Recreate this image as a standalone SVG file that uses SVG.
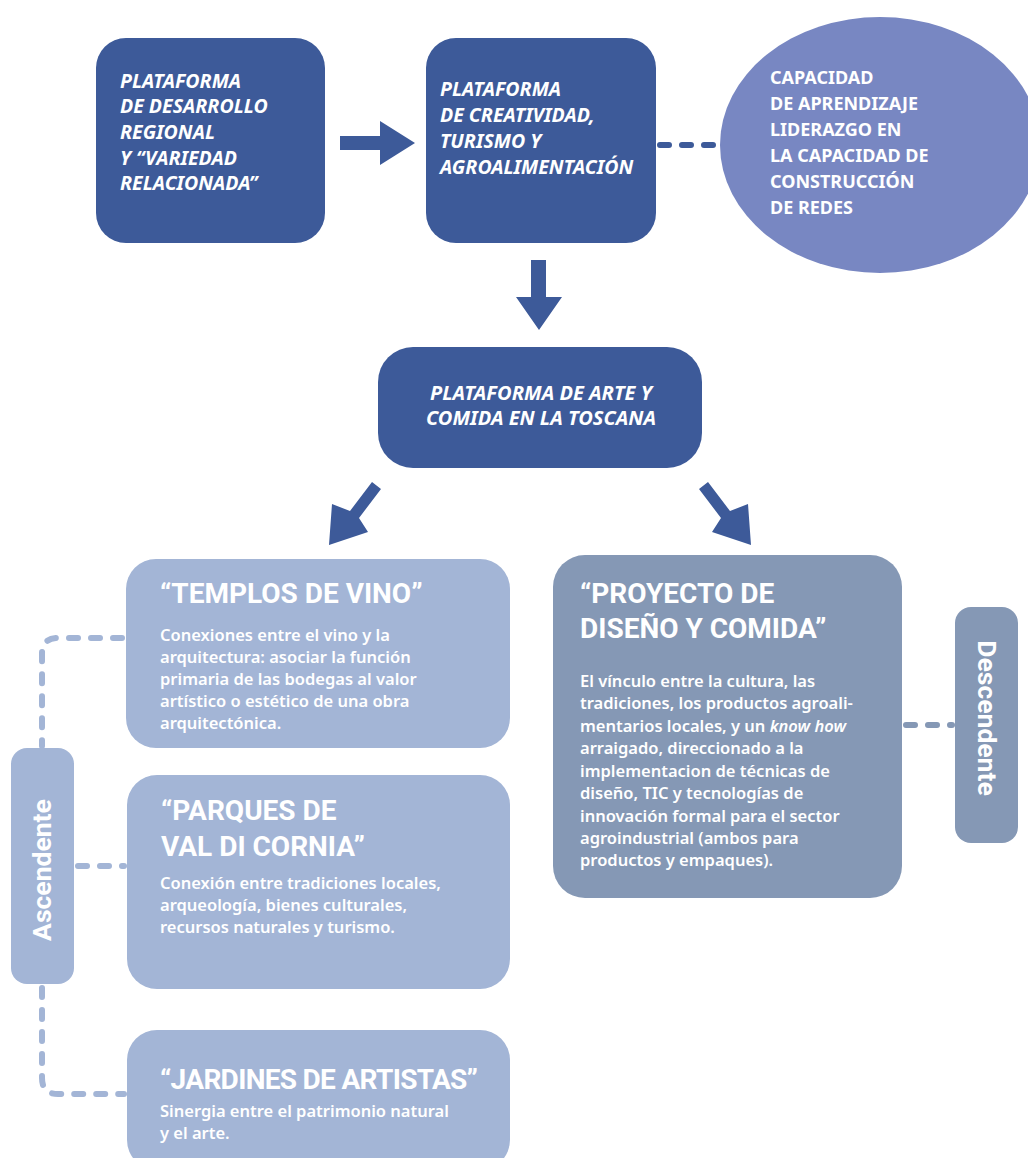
<svg xmlns="http://www.w3.org/2000/svg" width="1028" height="1158" viewBox="0 0 1028 1158">
<style>
.dark{fill:#3d5a99}
.light{fill:#a3b5d6}
.slate{fill:#8598b5}
.t{font-family:"Noto Sans","Open Sans",sans-serif;fill:#fff;font-weight:600}
.r{font-family:Roboto,"Noto Sans",sans-serif;font-weight:700}
.hi{font-size:19.5px;font-style:italic;font-weight:700}
.cap{font-size:18px;font-weight:700}
.title{font-size:28px}
.body{font-size:16.5px}
.vert{font-size:26.5px}
.dash{fill:none;stroke-width:6;stroke-linecap:round;stroke-dasharray:9 13}
</style>
<rect width="1028" height="1158" fill="#fff"/>
<g id="connectors">
  <polygon class="dark" points="340,136 380,136 380,121 415,143 380,165 380,150 340,150"/>
  <polygon class="dark" points="531,260 546,260 546,297 562,297 539,330 516,297 531,297"/>
  <polygon class="dark" points="372,482 381,489 359,518 368,532 329,545 332,504 350,511"/>
  <polygon class="dark" points="708,482 699,489 721,518 712,532 751,545 748,504 730,511"/>
  <path class="dash" stroke="#3d5a99" d="M660,145 H718"/>
  <path class="dash" stroke="#8598b5" d="M906,725 H952"/>
  <path class="dash" stroke="#a3b5d6" d="M122,638 H58 Q42,638 42,654 V746"/>
  <path class="dash" stroke="#a3b5d6" d="M78,866 H124"/>
  <path class="dash" stroke="#a3b5d6" d="M42,988 V1078 Q42,1094 58,1094 H124"/>
</g>
<g id="n-desarrollo">
  <rect class="dark" x="96" y="38" width="229" height="205" rx="30"/>
  <text class="t hi"><tspan x="120" y="88">PLATAFORMA</tspan><tspan x="120" y="113">DE DESARROLLO</tspan><tspan x="120" y="139">REGIONAL</tspan><tspan x="120" y="165">Y “VARIEDAD</tspan><tspan x="120" y="190">RELACIONADA”</tspan></text>
</g>
<g id="n-creatividad">
  <rect class="dark" x="426" y="38" width="230" height="205" rx="30"/>
  <text class="t hi"><tspan x="440" y="96">PLATAFORMA</tspan><tspan x="440" y="122">DE CREATIVIDAD,</tspan><tspan x="440" y="148">TURISMO Y</tspan><tspan x="440" y="174">AGROALIMENTACIÓN</tspan></text>
</g>
<g id="n-capacidad">
  <ellipse cx="880" cy="145" rx="160" ry="128" fill="#7887c2"/>
  <text class="t cap"><tspan x="770" y="84">CAPACIDAD</tspan><tspan x="770" y="110">DE APRENDIZAJE</tspan><tspan x="770" y="136">LIDERAZGO EN</tspan><tspan x="770" y="162">LA CAPACIDAD DE</tspan><tspan x="770" y="188">CONSTRUCCIÓN</tspan><tspan x="770" y="214">DE REDES</tspan></text>
</g>
<g id="n-toscana">
  <rect class="dark" x="378" y="347" width="324" height="121" rx="35"/>
  <text class="t hi" text-anchor="middle" style="font-size:20px"><tspan x="541" y="400">PLATAFORMA DE ARTE Y</tspan><tspan x="541" y="425">COMIDA EN LA TOSCANA</tspan></text>
</g>
<g id="n-templos">
  <rect class="light" x="126" y="559" width="384" height="189" rx="30"/>
  <text class="t r title" x="160" y="603">“TEMPLOS DE VINO”</text>
  <text class="t body"><tspan x="160" y="641">Conexiones entre el vino y la</tspan><tspan x="160" y="663">arquitectura: asociar la función</tspan><tspan x="160" y="685">primaria de las bodegas al valor</tspan><tspan x="160" y="707">artístico o estético de una obra</tspan><tspan x="160" y="729">arquitectónica.</tspan></text>
</g>
<g id="n-parques">
  <rect class="light" x="127" y="775" width="383" height="214" rx="30"/>
  <text class="t r title"><tspan x="161" y="820">“PARQUES DE</tspan><tspan x="161" y="856">VAL DI CORNIA”</tspan></text>
  <text class="t body"><tspan x="160" y="889">Conexión entre tradiciones locales,</tspan><tspan x="160" y="911">arqueología, bienes culturales,</tspan><tspan x="160" y="933">recursos naturales y turismo.</tspan></text>
</g>
<g id="n-jardines">
  <rect class="light" x="127" y="1030" width="383" height="140" rx="30"/>
  <text class="t r title" x="160" y="1089" textLength="318">“JARDINES DE ARTISTAS”</text>
  <text class="t body"><tspan x="160" y="1117">Sinergia entre el patrimonio natural</tspan><tspan x="160" y="1139">y el arte.</tspan></text>
</g>
<g id="n-ascendente">
  <rect class="light" x="11" y="748" width="63" height="236" rx="16"/>
  <text class="t r vert" text-anchor="middle" transform="translate(51,870) rotate(-90)">Ascendente</text>
</g>
<g id="n-proyecto">
  <rect class="slate" x="553" y="555" width="349" height="343" rx="32"/>
  <text class="t r title"><tspan x="580" y="603">“PROYECTO DE</tspan><tspan x="580" y="638">DISEÑO Y COMIDA”</tspan></text>
  <text class="t body"><tspan x="580" y="687">El vínculo entre la cultura, las</tspan><tspan x="580" y="709">tradiciones, los productos agroali-</tspan><tspan x="580" y="732">mentarios locales, y un <tspan font-style="italic">know how</tspan></tspan><tspan x="580" y="754">arraigado, direccionado a la</tspan><tspan x="580" y="777">implementacion de técnicas de</tspan><tspan x="580" y="799">diseño, TIC y tecnologías de</tspan><tspan x="580" y="822">innovación formal para el sector</tspan><tspan x="580" y="844">agroindustrial (ambos para</tspan><tspan x="580" y="866">productos y empaques).</tspan></text>
</g>
<g id="n-descendente">
  <rect class="slate" x="955" y="607" width="63" height="236" rx="16"/>
  <text class="t r vert" text-anchor="middle" transform="translate(978,718) rotate(90)">Descendente</text>
</g>
</svg>
